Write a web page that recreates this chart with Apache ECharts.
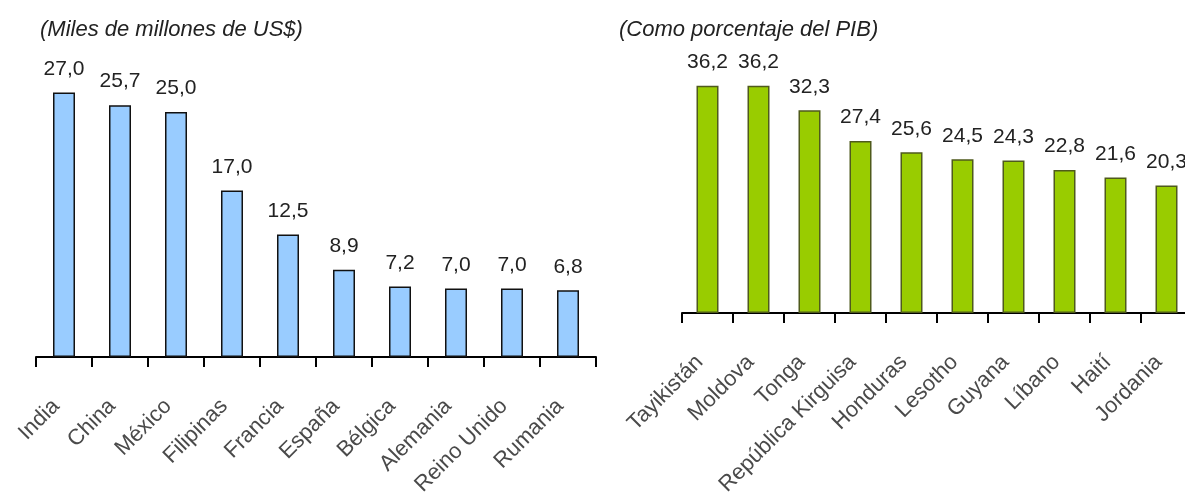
<!DOCTYPE html>
<html>
<head>
<meta charset="utf-8">
<script src="https://cdn.jsdelivr.net/npm/echarts@6/dist/echarts.min.js"></script>
<style>html,body{margin:0;padding:0;background:#fff;overflow:hidden;width:1185px;height:500px}#c{width:1200px;height:500px}</style>
</head>
<body>
<div id="c"></div>
<script>
const leftTitle = '(Miles de millones de US$)';
const rightTitle = '(Como porcentaje del PIB)';
const leftCategories = ['India','China','México','Filipinas','Francia','España','Bélgica','Alemania','Reino Unido','Rumania'];
const leftValues = [27.0, 25.7, 25.0, 17.0, 12.5, 8.9, 7.2, 7.0, 7.0, 6.8];
const rightCategories = ['Tayikistán','Moldova','Tonga','República Kirguisa','Honduras','Lesotho','Guyana','Líbano','Haití','Jordania'];
const rightValues = [36.2, 36.2, 32.3, 27.4, 25.6, 24.5, 24.3, 22.8, 21.6, 20.3];

const FONT = '"Liberation Sans", Arial, sans-serif';
const fmt = p => p.value.toFixed(1).replace('.', ',');

function xAxis(idx, cats) {
  return {
    type: 'category', gridIndex: idx, data: cats, boundaryGap: true,
    axisLine: {lineStyle: {color: '#000', width: 2}},
    axisTick: {show: true, length: 10, lineStyle: {color: '#000', width: 2}},
    axisLabel: {rotate: 45, margin: 38, interval: 0, padding: [0, 11, 12, 0],
      fontFamily: FONT, fontSize: 22, color: '#4a4a4a'}
  };
}
function yAxis(idx, max) {
  return {type: 'value', gridIndex: idx, min: 0, max: max, show: false, splitLine: {show: false}};
}
function bars(idx, vals, color, border) {
  return {
    type: 'bar', xAxisIndex: idx, yAxisIndex: idx, data: vals, barWidth: 22,
    itemStyle: {color: color, borderColor: border, borderWidth: 1.5},
    label: {show: true, position: 'top', distance: 13, formatter: fmt, fontFamily: FONT, fontSize: 21, color: '#222'},
    animation: false
  };
}

const chart = echarts.init(document.getElementById('c'), null, {renderer: 'canvas'});
chart.setOption({
  animation: false,
  backgroundColor: '#fff',
  title: [
    {text: leftTitle, left: 35, top: 14, textStyle: {fontFamily: FONT, fontStyle: 'italic', fontWeight: 'normal', fontSize: 22, color: '#222'}},
    {text: rightTitle, left: 614, top: 14, textStyle: {fontFamily: FONT, fontStyle: 'italic', fontWeight: 'normal', fontSize: 22, color: '#222'}}
  ],
  grid: [
    {left: 36, width: 560, top: 63, height: 294},
    {left: 682, width: 510, top: 62, height: 251}
  ],
  xAxis: [xAxis(0, leftCategories), xAxis(1, rightCategories)],
  yAxis: [yAxis(0, 30), yAxis(1, 40)],
  series: [
    bars(0, leftValues, '#99CCFF', '#111'),
    bars(1, rightValues, '#99CC00', '#4f5a1c')
  ]
});
</script>
</body>
</html>
